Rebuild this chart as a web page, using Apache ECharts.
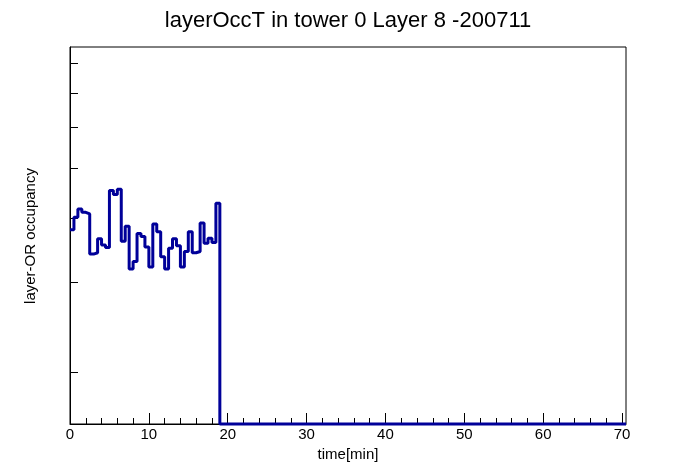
<!DOCTYPE html>
<html>
<head>
<meta charset="utf-8">
<script src="https://cdn.jsdelivr.net/npm/echarts@6/dist/echarts.min.js"></script>
<style>
  html, body { margin: 0; padding: 0; background: #fff; }
  #chart { width: 696px; height: 472px; }
</style>
</head>
<body>
<div id="chart"></div>
<script>
// histogram contents, 0.5 min bins starting at 0; bins after 19 min are empty
const binWidth = 0.5
const occupancy = [
  3.79, 4.01, 4.16, 4.10, 4.07, 3.40, 3.42, 3.64, 3.54, 3.50,
  4.52, 4.44, 4.55, 3.60, 3.85, 3.18, 3.29, 3.73, 3.68, 3.51,
  3.21, 3.89, 3.76, 3.36, 3.18, 3.49, 3.64, 3.53, 3.21, 3.44,
  3.76, 3.42, 3.44, 3.91, 3.57, 3.65, 3.58, 4.27
]
const xMax = 70.5
const xTicks = [0, 10, 20, 30, 40, 50, 60, 70]
const xMinorTicks = [2, 4, 6, 8, 12, 14, 16, 18, 22, 24, 26, 28, 32, 34, 36, 38,
  42, 44, 46, 48, 52, 54, 56, 58, 62, 64, 66, 68]
// log-scale y axis (no labels in the original)
const yMin = 1.586
const yMax = 8.61
const yTicks = [2, 3, 4, 5, 6, 7, 8]

const lg = v => Math.log10(v)
const lmin = lg(yMin)

// step line points at the left edge of each bin, then the empty tail on the floor
const points = occupancy.map((v, i) => [i * binWidth, lg(v)])
points.push([occupancy.length * binWidth, lmin])
points.push([xMax, lmin])

const chart = echarts.init(document.getElementById('chart'))

const option = {
  animation: false,
  textStyle: { fontFamily: 'Liberation Sans, Arial, sans-serif' },
  title: {
    text: 'layerOccT in tower 0 Layer 8 -200711',
    left: 'center',
    top: 5,
    textStyle: { fontSize: 22, fontWeight: 'normal', color: '#000', fontFamily: 'Liberation Sans' }
  },
  grid: {
    left: 70, right: 70, top: 47, bottom: 48,
    show: true, borderColor: '#000', borderWidth: 1
  },
  xAxis: [
    {
      type: 'value',
      min: 0, max: xMax,
      name: 'time[min]',
      nameLocation: 'middle',
      nameGap: 20,
      nameTextStyle: { fontSize: 15, color: '#000' },
      axisLine: { show: true, lineStyle: { color: '#000', width: 1 } },
      axisTick: { show: true, inside: true, length: 11, customValues: xTicks, lineStyle: { color: '#000' } },
      axisLabel: { customValues: xTicks, fontSize: 15, color: '#000', margin: 3 },
      splitLine: { show: false }
    },
    {
      type: 'value',
      min: 0, max: xMax,
      position: 'bottom',
      axisLine: { show: false },
      axisTick: { show: true, inside: true, length: 6, customValues: xMinorTicks, lineStyle: { color: '#000' } },
      axisLabel: { show: false },
      splitLine: { show: false }
    }
  ],
  yAxis: {
    type: 'value',
    min: lmin, max: lg(yMax),
    axisLine: { show: true, lineStyle: { color: '#000', width: 1 } },
    axisTick: { show: true, inside: true, length: 8, customValues: yTicks.map(lg), lineStyle: { color: '#000' } },
    axisLabel: { show: false },
    splitLine: { show: false }
  },
  graphic: [
    {
      type: 'text',
      x: 31, y: 236,
      rotation: Math.PI / 2,
      style: {
        text: 'layer-OR occupancy',
        fontSize: 15,
        fontFamily: 'Liberation Sans',
        fill: '#000',
        align: 'center',
        verticalAlign: 'middle'
      }
    }
  ],
  series: [
    {
      type: 'line',
      step: 'end',
      data: points,
      showSymbol: false,
      clip: false,
      lineStyle: { color: '#000099', width: 3 },
      z: 1
    }
  ]
}

chart.setOption(option)
</script>
</body>
</html>
